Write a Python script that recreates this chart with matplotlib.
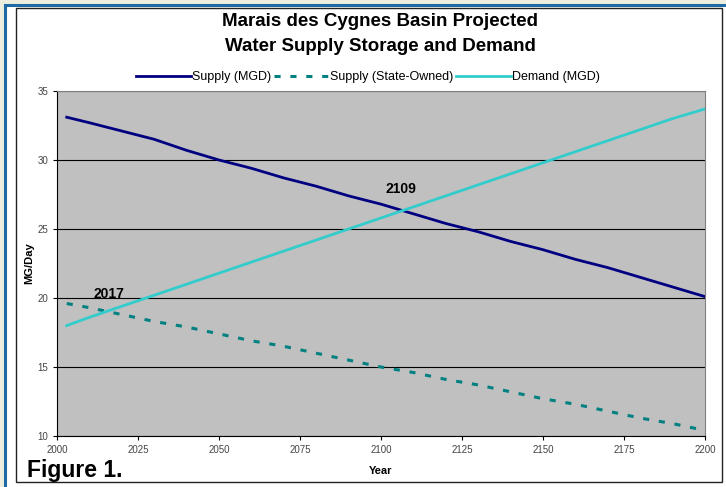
import matplotlib.pyplot as plt
from matplotlib.patches import Rectangle

plt.rcParams['font.family'] = ['Liberation Sans', 'DejaVu Sans']

years = [2003, 2010, 2020, 2030, 2040, 2050, 2060, 2070, 2080, 2090, 2100,
         2110, 2120, 2130, 2140, 2150, 2160, 2170, 2180, 2190, 2200]
supply = [33.1, 32.7, 32.1, 31.5, 30.7, 30.0, 29.4, 28.7, 28.1, 27.4, 26.8,
          26.1, 25.4, 24.8, 24.1, 23.5, 22.8, 22.2, 21.5, 20.8, 20.1]
supply_state = [19.6, 19.3, 18.8, 18.3, 17.9, 17.4, 16.9, 16.5, 16.0, 15.5, 15.0,
                14.6, 14.1, 13.7, 13.2, 12.7, 12.3, 11.8, 11.3, 10.9, 10.4]
demand = [18.0, 18.6, 19.4, 20.2, 21.0, 21.8, 22.6, 23.4, 24.2, 25.0, 25.8,
          26.6, 27.4, 28.2, 29.0, 29.8, 30.6, 31.4, 32.2, 33.0, 33.7]

x_ticks = [2000, 2025, 2050, 2075, 2100, 2125, 2150, 2175, 2200]
y_ticks = [10, 15, 20, 25, 30, 35]

W, H = 726, 487
fig = plt.figure(figsize=(W / 100, H / 100), dpi=100)
fig.patch.set_facecolor('#eceee0')

# blue frame + white panel with black border
fig.add_artist(Rectangle((5 / W, -0.1), 1.0, (H - 5) / H + 0.1, transform=fig.transFigure,
                         facecolor='white', edgecolor='#1f6aa5', linewidth=2.2, zorder=0))
fig.add_artist(Rectangle((16 / W, 5 / H), 706 / W, 474 / H, transform=fig.transFigure,
                         facecolor='white', edgecolor='#222222', linewidth=1.0, zorder=0))

ax = fig.add_axes([57 / W, (H - 436) / H, 648 / W, 345 / H])
ax.set_facecolor('#c0c0c0')

ax.plot(years, supply, color='#000080', lw=2.0, label='Supply (MGD)')
ax.plot(years, supply_state, color='#008080', lw=2.2, linestyle=(0, (2, 3.2)),
        label='Supply (State-Owned)')
ax.plot(years, demand, color='#33cccc', lw=2.0, label='Demand (MGD)')

ax.set_xlim(2000, 2200)
ax.set_ylim(10, 35)
ax.set_xticks(x_ticks)
ax.set_yticks(y_ticks)
ax.grid(axis='y', color='black', lw=0.8)
ax.set_axisbelow(True)
ax.tick_params(labelsize=7, labelcolor='#444444', length=3, width=0.8)
for s in ['top', 'right']:
    ax.spines[s].set_color('#808080')

ax.text(2106, 27.4, '2109', fontsize=10, fontweight='bold', ha='center', va='bottom')
ax.text(2016, 19.8, '2017', fontsize=10, fontweight='bold', ha='center', va='bottom')

ax.set_xlabel('Year', fontsize=8, fontweight='bold', labelpad=8)
ax.set_ylabel('MG/Day', fontsize=8, fontweight='bold', labelpad=2)

fig.text(380 / W, 1 - 34 / H, 'Marais des Cygnes Basin Projected\nWater Supply Storage and Demand',
         ha='center', va='center', fontsize=13.5, fontweight='bold', linespacing=1.65)

ax.legend(loc='lower center', bbox_to_anchor=(0.48, 1.0), ncol=3, frameon=False,
          fontsize=9, handlelength=4.4, handletextpad=0.1, columnspacing=0.2,
          borderaxespad=0.2)

fig.text(27 / W, 1 - 470 / H, 'Figure 1.', fontsize=16.5, fontweight='bold', va='center')

fig.savefig('out.png', dpi=100, facecolor=fig.get_facecolor())
